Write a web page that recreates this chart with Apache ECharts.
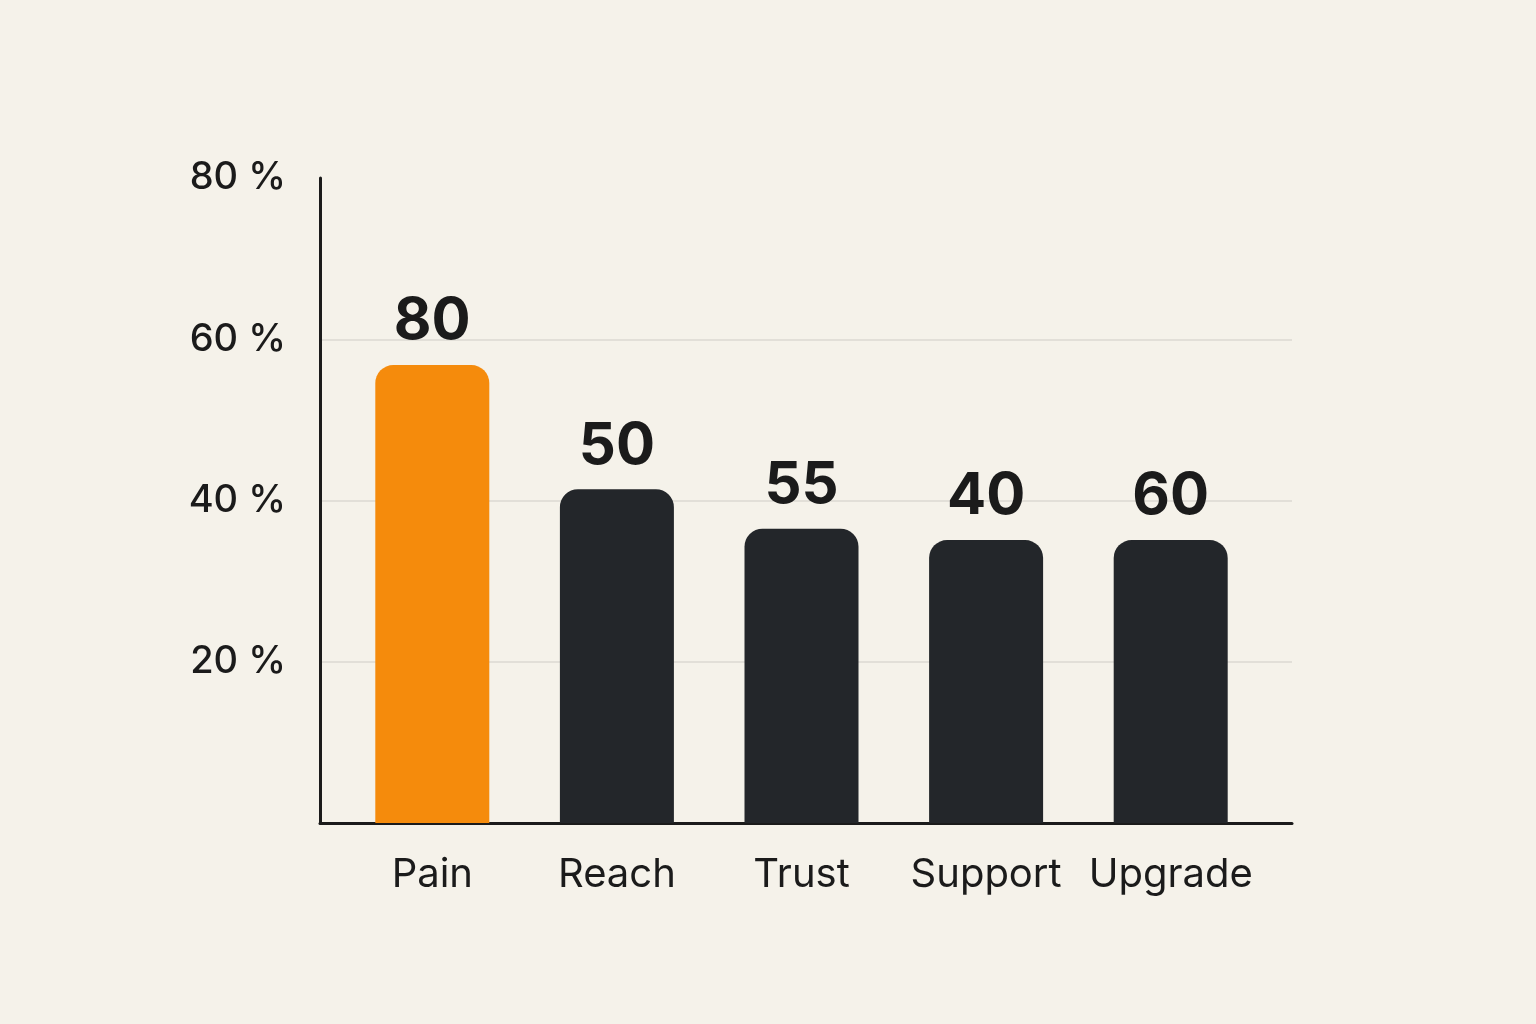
<!DOCTYPE html>
<html>
<head>
<meta charset="utf-8">
<title>Bar chart</title>
<script src="https://cdn.jsdelivr.net/npm/echarts@6/dist/echarts.min.js"></script>
<style>
  html, body { margin: 0; padding: 0; background: #f5f2ea; }
  #chart { width: 1536px; height: 1024px; }
</style>
</head>
<body>
<div id="chart"></div>
<script>
const categories = ['Pain', 'Reach', 'Trust', 'Support', 'Upgrade']
// bar heights as drawn (percent of axis)
const barValues = [56.8, 41.4, 36.5, 35.1, 35.1]
// numbers printed above the bars
const barLabels = ['80', '50', '55', '40', '60']
const yTicks = [0, 20, 40, 60, 80]

const orange = '#f58b0c'
const dark = '#23262a'
const ink = '#1b1b1b'
const font = 'Inter, "Noto Sans", sans-serif'

const chart = echarts.init(document.getElementById('chart'))

const option = {
  backgroundColor: '#f5f2ea',
  animation: false,
  grid: [
    // axis frame
    { left: 320, right: 244, top: 178, bottom: 201 },
    // bars sit a little inside the frame
    { left: 340, right: 273, top: 178, bottom: 201 }
  ],
  xAxis: [
    {
      gridIndex: 0,
      type: 'category',
      data: categories,
      axisLine: { lineStyle: { color: ink, width: 3 } },
      axisTick: { show: false },
      axisLabel: { show: false }
    },
    {
      gridIndex: 1,
      type: 'category',
      data: categories,
      axisLine: { show: false },
      axisTick: { show: false },
      axisLabel: {
        interval: 0,
        color: ink,
        fontFamily: font,
        fontSize: 40,
        margin: 32
      }
    }
  ],
  yAxis: [
    {
      gridIndex: 0,
      type: 'value',
      min: yTicks[0],
      max: yTicks[yTicks.length - 1],
      interval: 20,
      axisLine: { show: true, lineStyle: { color: ink, width: 3 } },
      axisTick: { show: false },
      axisLabel: {
        color: ink,
        fontFamily: font,
        fontSize: 38,
        fontWeight: 500,
        margin: 34,
        formatter: (v) => (v === 0 ? '' : v + ' %')
      },
      splitLine: {
        lineStyle: {
          color: ['transparent', '#e2dfd8', '#e2dfd8', '#e2dfd8', 'transparent'],
          width: 2
        }
      }
    },
    {
      gridIndex: 1,
      type: 'value',
      min: yTicks[0],
      max: yTicks[yTicks.length - 1],
      interval: 20,
      show: false,
      splitLine: { show: false }
    }
  ],
  series: [
    {
      type: 'bar',
      xAxisIndex: 1,
      yAxisIndex: 1,
      barWidth: 114,
      data: barValues.map((v, i) => ({
        value: v,
        itemStyle: { color: i === 0 ? orange : dark }
      })),
      itemStyle: { borderRadius: [18, 18, 0, 0] },
      label: {
        show: true,
        position: 'top',
        distance: 14,
        color: ink,
        fontFamily: font,
        fontWeight: 'bold',
        fontSize: 58,
        formatter: (p) => barLabels[p.dataIndex]
      }
    }
  ]
}

chart.setOption(option)
</script>
</body>
</html>
